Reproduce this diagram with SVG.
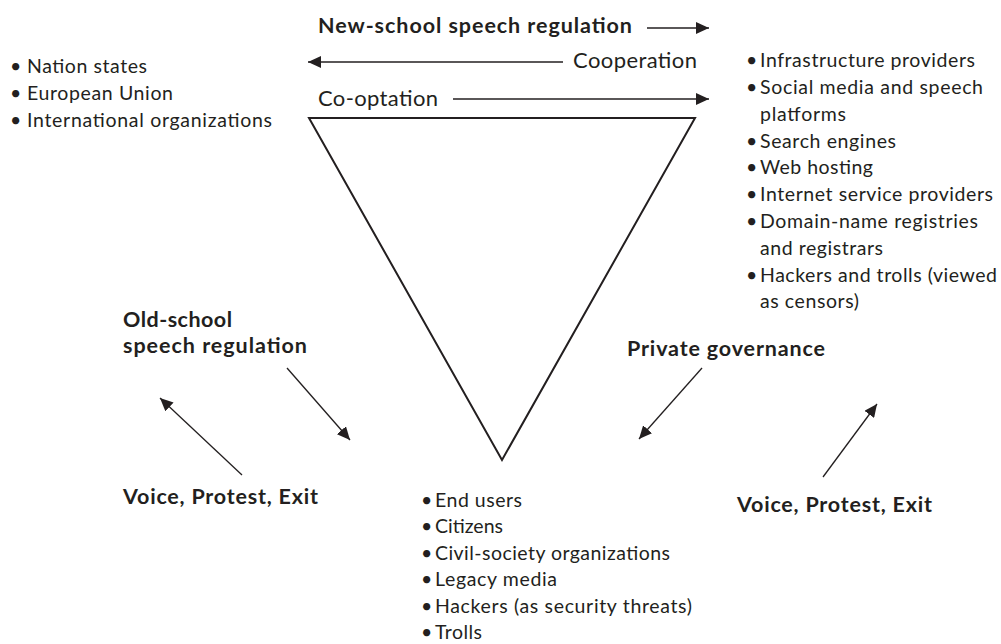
<svg xmlns="http://www.w3.org/2000/svg" width="1001" height="644" viewBox="0 0 1001 644">
<style>
text{font-family:Lato,"Liberation Sans",sans-serif;fill:#231f20}
.r{font-size:19.5px}
.m{font-size:22px}
.b{font-size:21.5px;font-weight:bold}
.ln{stroke:#231f20;stroke-width:1.3;fill:none}
.tri{stroke:#231f20;stroke-width:2;fill:#fff;stroke-linejoin:miter}
</style>
<defs>
<marker id="ah" markerUnits="userSpaceOnUse" markerWidth="14" markerHeight="12" viewBox="0 0 14 12" refX="13" refY="6" orient="auto">
<path d="M0,0 L13,6 L0,12 Z" fill="#231f20"/>
</marker>
</defs>
<rect width="1001" height="644" fill="#fff"/>
<g id="triangle">
<polygon class="tri" points="309,118 695,118 502,460"/>
</g>
<g id="connectors">
<line class="ln" x1="647" y1="28" x2="709" y2="28" marker-end="url(#ah)"/>
<line class="ln" x1="563" y1="62" x2="308" y2="62" marker-end="url(#ah)"/>
<line class="ln" x1="453" y1="99" x2="709" y2="99" marker-end="url(#ah)"/>
<line class="ln" x1="287" y1="368" x2="350" y2="440" marker-end="url(#ah)"/>
<line class="ln" x1="242" y1="475" x2="160" y2="398" marker-end="url(#ah)"/>
<line class="ln" x1="702" y1="368" x2="639" y2="439" marker-end="url(#ah)"/>
<line class="ln" x1="823" y1="477" x2="877" y2="404" marker-end="url(#ah)"/>
</g>
<g id="new-school">
<text class="b" x="318" y="33" textLength="314">New-school speech regulation</text>
</g>
<g id="cooperation">
<text class="m" x="573" y="68" textLength="124">Cooperation</text>
</g>
<g id="co-optation">
<text class="m" x="318" y="106" textLength="120">Co-optation</text>
</g>
<g id="states">
<text class="r" x="10" y="73">•</text>
<text class="r" x="27" y="73" textLength="120">Nation states</text>
<text class="r" x="10" y="100">•</text>
<text class="r" x="27" y="100" textLength="146">European Union</text>
<text class="r" x="10" y="127">•</text>
<text class="r" x="27" y="127" textLength="245">International organizations</text>
</g>
<g id="intermediaries">
<text class="r" x="746" y="67">•</text>
<text class="r" x="760" y="67" textLength="215">Infrastructure providers</text>
<text class="r" x="746" y="94">•</text>
<text class="r" x="760" y="94" textLength="223">Social media and speech</text>
<text class="r" x="760" y="120.5" textLength="86">platforms</text>
<text class="r" x="746" y="147.5">•</text>
<text class="r" x="760" y="147.5" textLength="136">Search engines</text>
<text class="r" x="746" y="174">•</text>
<text class="r" x="760" y="174" textLength="113">Web hosting</text>
<text class="r" x="746" y="201">•</text>
<text class="r" x="760" y="201" textLength="233">Internet service providers</text>
<text class="r" x="746" y="228">•</text>
<text class="r" x="760" y="228" textLength="218">Domain-name registries</text>
<text class="r" x="760" y="254.5" textLength="123">and registrars</text>
<text class="r" x="746" y="281.5">•</text>
<text class="r" x="760" y="281.5" textLength="237">Hackers and trolls (viewed</text>
<text class="r" x="760" y="308" textLength="99">as censors)</text>
</g>
<g id="old-school">
<text class="b" x="123" y="327" textLength="109">Old-school</text>
<text class="b" x="123" y="353" textLength="184">speech regulation</text>
</g>
<g id="private-governance">
<text class="b" x="627" y="356" textLength="198">Private governance</text>
</g>
<g id="voice-left">
<text class="b" x="123" y="504" textLength="195">Voice, Protest, Exit</text>
</g>
<g id="voice-right">
<text class="b" x="737" y="512" textLength="195">Voice, Protest, Exit</text>
</g>
<g id="users">
<text class="r" x="421" y="506.5">•</text>
<text class="r" x="435" y="506.5" textLength="87">End users</text>
<text class="r" x="421" y="533">•</text>
<text class="r" x="435" y="533" textLength="68">Citizens</text>
<text class="r" x="421" y="559.6">•</text>
<text class="r" x="435" y="559.6" textLength="235">Civil-society organizations</text>
<text class="r" x="421" y="586.2">•</text>
<text class="r" x="435" y="586.2" textLength="122">Legacy media</text>
<text class="r" x="421" y="612.8">•</text>
<text class="r" x="435" y="612.8" textLength="257">Hackers (as security threats)</text>
<text class="r" x="421" y="639.4">•</text>
<text class="r" x="435" y="639.4" textLength="47">Trolls</text>
</g>
</svg>
